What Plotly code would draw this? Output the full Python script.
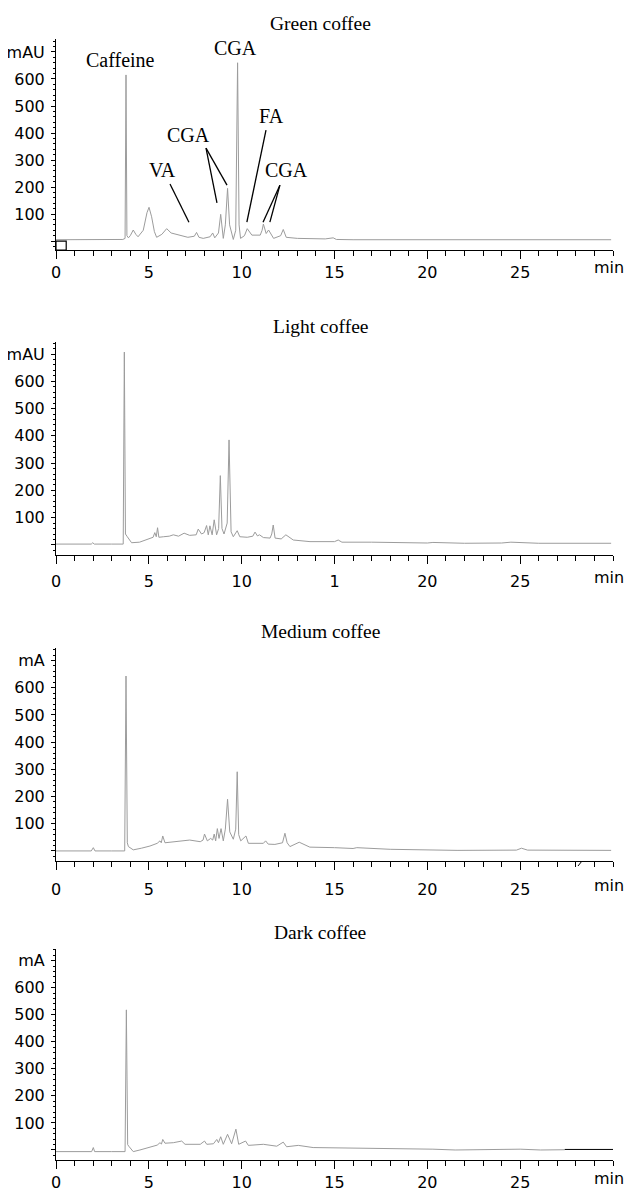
import plotly.graph_objects as go

# ---------------- data ----------------
panel_titles = ["Green coffee", "Light coffee", "Medium coffee", "Dark coffee"]
y_units = ["mAU", "mAU", "mA", "mA"]

x_tickvals = [0, 5, 10, 15, 20, 25]
x_ticktext_green = ["0", "5", "10", "15", "20", "25"]
x_ticktext_light = ["0", "5", "10", "1", "20", "25"]
x_ticktext_medium = ["0", "5", "10", "15", "20", "25"]
x_ticktext_dark = ["0", "5", "10", "15", "20", "25"]
y_tickvals = [0, 100, 200, 300, 400, 500, 600, 700]
y_ticklabels = ["", "100", "200", "300", "400", "500", "600"]

green_t = [0.0, 1.0, 2.0, 3.0, 3.6, 3.72, 3.77, 3.82, 3.9, 4.0, 4.16, 4.3, 4.42, 4.7, 4.9,
           5.01, 5.15, 5.3, 5.42, 5.7, 5.96, 6.2, 6.6, 7.1, 7.45, 7.57, 7.7, 7.93, 8.3, 8.44,
           8.55, 8.75, 8.87, 9.01, 9.12, 9.24, 9.35, 9.55, 9.68, 9.78, 9.86, 9.94, 10.15, 10.3,
           10.55, 11.0, 11.1, 11.17, 11.32, 11.45, 11.72, 12.1, 12.24, 12.4, 13.0, 13.5, 14.5,
           14.93, 15.1, 16, 20, 25, 29.9]
green_v = [5, 6, 5, 6, 6, 10, 615, 20, 12, 20, 41, 25, 16, 40, 105,
           125, 90, 35, 14, 25, 46, 30, 22, 14, 18, 32, 14, 10, 16, 30,
           12, 30, 99, 10, 60, 195, 60, 6, 40, 660, 60, 10, 20, 46,
           22, 22, 40, 63, 28, 41, 10, 20, 43, 14, 10, 9, 8,
           12, 6, 5, 5, 5, 5]

light_t = [0, 1.9, 1.98, 2.06, 3.0, 3.62, 3.68, 3.74, 3.84, 4.07, 4.5, 4.88, 5.23, 5.32, 5.4,
           5.47, 5.54, 5.8, 6.1, 6.32, 6.6, 6.9, 7.2, 7.55, 7.66, 7.84, 7.98, 8.11, 8.2, 8.29,
           8.41, 8.52, 8.65, 8.76, 8.85, 8.94, 9.05, 9.22, 9.32, 9.43, 9.55, 9.76, 9.9, 10.3,
           10.6, 10.72, 10.85, 10.96, 11.17, 11.53, 11.62, 11.7, 11.8, 12.13, 12.38, 12.78,
           13.68, 15.0, 15.2, 15.4, 17.0, 20.0, 20.3, 22.0, 24.0, 24.5, 26.0, 29.9]
light_v = [3, 3, 8, 3, 3, 3, 707, 40, 30, 8, 10, 18, 28, 45, 30,
           63, 28, 30, 32, 37, 32, 43, 35, 37, 58, 40, 45, 71, 37, 70,
           37, 92, 37, 60, 254, 60, 40, 80, 385, 48, 30, 52, 30, 28,
           32, 47, 33, 37, 27, 25, 40, 73, 25, 22, 37, 18,
           12, 12, 18, 10, 10, 7, 9, 6, 7, 10, 6, 6]

medium_t = [0, 1.9, 2.01, 2.1, 3.0, 3.7, 3.77, 3.84, 3.9, 4.16, 4.6, 5.06, 5.45, 5.6, 5.67,
            5.75, 5.87, 6.3, 6.86, 7.2, 7.77, 7.92, 8.0, 8.15, 8.33, 8.44, 8.52, 8.6, 8.69,
            8.78, 8.89, 9.01, 9.12, 9.24, 9.36, 9.55, 9.68, 9.76, 9.84, 9.95, 10.23, 10.36,
            11.17, 11.29, 11.43, 11.79, 12.2, 12.33, 12.45, 12.6, 13.1, 13.67, 15.0, 16.0,
            16.2, 18, 21.6, 24.8, 25.07, 25.4, 29.9]
medium_v = [0, 0, 12, 0, 0, 0, 643, 30, 16, 4, 10, 18, 28, 37, 30,
            55, 30, 33, 37, 40, 34, 40, 62, 37, 46, 40, 62, 37, 82,
            46, 82, 37, 80, 190, 70, 43, 80, 291, 60, 37, 55, 28,
            28, 37, 25, 24, 30, 65, 30, 16, 32, 14, 12, 9,
            12, 6, 2, 3, 10, 3, 2]

dark_t = [0, 1.92, 2.01, 2.08, 3.0, 3.72, 3.79, 3.86, 3.92, 4.16, 4.52, 5.06, 5.45, 5.6, 5.68,
          5.75, 5.87, 6.32, 6.77, 6.95, 7.77, 8.0, 8.12, 8.48, 8.66, 8.75, 8.87, 9.01, 9.24,
          9.46, 9.69, 9.84, 10.21, 10.36, 11.17, 11.89, 12.24, 12.42, 13.05, 13.85, 16.4,
          20.3, 21.5, 25.0, 26.1, 27.4]
dark_v = [-6, -6, 9, -6, -6, -6, 518, 20, 14, -6, 0, 9, 18, 27, 22,
          39, 25, 27, 33, 21, 21, 33, 21, 23, 39, 27, 49, 21, 58,
          23, 77, 21, 33, 17, 21, 14, 29, 12, 17, 9, 7,
          3, 0, 3, 0, 1]
# black baseline segment drawn at the end of the dark-coffee trace
dark_tail_t = [27.4, 30.0]
dark_tail_v = [2, 2]

# peak labels on the green-coffee chromatogram
peak_labels = ["Caffeine", "CGA", "FA", "CGA", "VA", "CGA"]
peak_label_t = [3.45, 9.69, 11.58, 7.11, 5.76, 12.44]
peak_label_v = [670, 715, 463, 393, 263, 263]
# leader lines: (t0, v0, t1, v1)
leader_t0 = [6.14, 8.08, 8.08, 11.31, 12.06, 12.06]
leader_v0 = [211, 344, 344, 411, 207, 207]
leader_t1 = [7.16, 8.67, 9.21, 10.28, 11.15, 11.52]
leader_v1 = [70, 141, 207, 70, 70, 70]

# ---------------- figure ----------------
# the page places the figure 8 px in from the top-left corner (default body margin)
OFF = 8
W, H = 634 - OFF, 1195 - OFF
PLOT_L, PLOT_R = 56, 613                                        # page px
panel_px = [(39, 250), (342, 555), (648, 861), (949, 1160)]   # top, bottom (page px)
y_ranges = [[-33, 748], [-37, 744], [-37, 746], [-37, 743]]
series = [(green_t, green_v), (light_t, light_v), (medium_t, medium_v), (dark_t, dark_v)]
xtexts = [x_ticktext_green, x_ticktext_light, x_ticktext_medium, x_ticktext_dark]
title_px = [23, 326, 631, 932]
label_standoff = [0, 4, 6, 0]
label_center_below = [18, 22, 24, 18]

sans = "DejaVu Sans"
serif = "Liberation Serif"
line_col = "#9c9c9c"
TICK_FS = 16

fig = go.Figure()
layout = {}
annotations = []
shapes = []

def py2paper(py):
    return 1 - (py - OFF) / H

def px2paper(px):
    return (px - PLOT_L) / (PLOT_R - PLOT_L)

for i in range(4):
    xa = "x" if i == 0 else f"x{i+1}"
    ya = "y" if i == 0 else f"y{i+1}"
    t, v = series[i]
    fig.add_trace(go.Scatter(x=t, y=v, mode="lines", line=dict(color=line_col, width=1),
                             xaxis=xa, yaxis=ya, showlegend=False, hoverinfo="skip"))
    top, bot = panel_px[i]
    layout["xaxis" if i == 0 else f"xaxis{i+1}"] = dict(
        domain=[0, 1], range=[0, 30], anchor=ya, automargin=False,
        showline=True, linecolor="black", linewidth=1,
        ticks="outside", ticklen=8, tickwidth=1, tickcolor="black",
        tickmode="array", tickvals=x_tickvals, ticktext=xtexts[i],
        minor=dict(tickmode="linear", tick0=0, dtick=1, ticks="outside", ticklen=5,
                   tickwidth=1, tickcolor="black"),
        showgrid=False, zeroline=False, fixedrange=True,
        tickfont=dict(family=sans, size=TICK_FS, color="black"),
        ticklabelstandoff=label_standoff[i],
    )
    layout["yaxis" if i == 0 else f"yaxis{i+1}"] = dict(
        domain=[py2paper(bot), py2paper(top)], range=y_ranges[i], anchor=xa, automargin=False,
        showline=True, linecolor="black", linewidth=1,
        ticks="outside", ticklen=4, tickwidth=1, tickcolor="black",
        tickmode="array", tickvals=y_tickvals, ticktext=y_ticklabels + [y_units[i]],
        minor=dict(tickmode="linear", tick0=0, dtick=20, ticks="outside", ticklen=2,
                   tickwidth=1, tickcolor="black"),
        showgrid=False, zeroline=False, fixedrange=True,
        tickfont=dict(family=sans, size=TICK_FS, color="black"),
        ticklabelstandoff=3,
    )
    annotations.append(dict(text=panel_titles[i], xref="paper", yref="paper",
                            x=px2paper(320), y=py2paper(title_px[i]), xanchor="center",
                            yanchor="middle", showarrow=False,
                            font=dict(family=serif, size=19.5, color="black")))
    annotations.append(dict(text="min", xref="paper", yref="paper",
                            x=px2paper(609), y=py2paper(bot + label_center_below[i]),
                            xanchor="center", yanchor="middle", showarrow=False,
                            font=dict(family=sans, size=TICK_FS, color="black")))

# black tail segment (dark coffee)
fig.add_trace(go.Scatter(x=dark_tail_t, y=dark_tail_v, mode="lines",
                         line=dict(color="black", width=1), xaxis="x4", yaxis="y4",
                         showlegend=False, hoverinfo="skip", cliponaxis=False))

# peak labels and leader lines (green coffee)
for lab, tx, vy in zip(peak_labels, peak_label_t, peak_label_v):
    annotations.append(dict(text=lab, xref="x", yref="y", x=tx, y=vy, showarrow=False,
                            xanchor="center", yanchor="middle",
                            font=dict(family=serif, size=20, color="black")))
for a, b, c, d in zip(leader_t0, leader_v0, leader_t1, leader_v1):
    shapes.append(dict(type="line", xref="x", yref="y", x0=a, y0=b, x1=c, y1=d,
                       line=dict(color="black", width=1.3)))

# small box at the origin of the green panel
shapes.append(dict(type="rect", xref="x", yref="y", x0=0, x1=0.55, y0=y_ranges[0][0], y1=0,
                   line=dict(color="black", width=1.2), fillcolor="rgba(0,0,0,0)"))
# small slanted mark on the medium-coffee time axis
shapes.append(dict(type="line", xref="paper", yref="paper",
                   x0=px2paper(578), y0=py2paper(866), x1=px2paper(582), y1=py2paper(861),
                   line=dict(color="black", width=1)))

fig.update_layout(**layout)
fig.update_layout(width=W, height=H,
                  margin=dict(l=PLOT_L - OFF, r=W - (PLOT_R - OFF), t=0, b=0, autoexpand=False),
                  paper_bgcolor="white", plot_bgcolor="white",
                  annotations=annotations, shapes=shapes, showlegend=False)
fig.write_html("out.html")
